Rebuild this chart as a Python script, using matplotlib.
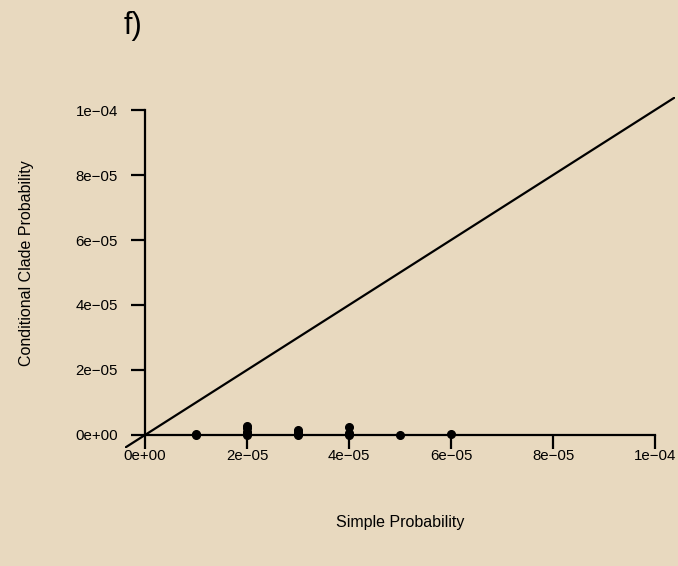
import matplotlib
matplotlib.use("Agg")
import matplotlib.pyplot as plt

plt.rcParams["font.family"] = ["Liberation Sans", "DejaVu Sans"]

# simple probability vs conditional clade probability
simple_prob = [1e-5, 1e-5,
               2e-5, 2e-5, 2e-5, 2e-5, 2e-5,
               3e-5, 3e-5, 3e-5, 3e-5,
               4e-5, 4e-5, 4e-5,
               5e-5, 6e-5]
ccp = [0.0, 0.3e-6,
       0.0, 0.5e-6, 1.0e-6, 2.0e-6, 2.8e-6,
       0.0, 0.4e-6, 1.0e-6, 1.5e-6,
       0.0, 0.6e-6, 2.5e-6,
       0.0, 0.3e-6]

ticks = [0, 2e-5, 4e-5, 6e-5, 8e-5, 1e-4]
tick_labels = ["0e+00", "2e\u221205", "4e\u221205", "6e\u221205", "8e\u221205", "1e\u221204"]

bg = "#e8d9bf"
fig = plt.figure(figsize=(6.78, 5.66), dpi=100, facecolor=bg)
ax = fig.add_axes([0.1838, 0.2085, 0.8124, 0.6201])
ax.set_facecolor("none")

ax.set_xlim(-4e-6, 1.04e-4)
ax.set_ylim(-4e-6, 1.04e-4)

ax.axline((0, 0), slope=1, color="black", linewidth=1.6)
ax.plot(simple_prob, ccp, "o", color="black", markersize=5.5, clip_on=False)

for side in ["top", "right"]:
    ax.spines[side].set_visible(False)
ax.spines["bottom"].set_position(("data", 0))
ax.spines["left"].set_position(("data", 0))
ax.spines["bottom"].set_bounds(0, 1e-4)
ax.spines["left"].set_bounds(0, 1e-4)
for side in ["bottom", "left"]:
    ax.spines[side].set_linewidth(1.6)

ax.set_xticks(ticks)
ax.set_xticklabels(tick_labels)
ax.set_yticks(ticks)
ax.set_yticklabels(tick_labels)
ax.tick_params(axis="x", direction="out", length=10, width=1.6, labelsize=10.8, pad=0)
ax.tick_params(axis="y", direction="out", length=10, width=1.6, labelsize=10.8, pad=9.5)

fig.text(400 / 678, 1 - 523 / 566, "Simple Probability", ha="center", va="center", fontsize=11.5)
fig.text(27 / 678, 1 - 263 / 566, "Conditional Clade Probability", ha="center", va="center",
         rotation=90, fontsize=11.5)
fig.text(124 / 678, 1 - 26 / 566, "f)", ha="left", va="center", fontsize=22)

fig.savefig("out.png", dpi=100, facecolor=bg)
